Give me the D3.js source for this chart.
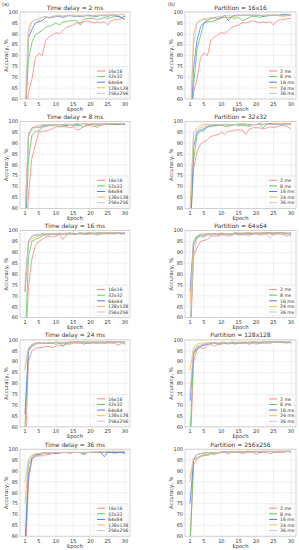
<!DOCTYPE html>
<html>
<head>
<meta charset="utf-8">
<script src="https://d3js.org/d3.v7.min.js"></script>
<style>
  body { margin: 0; background: #fff; }
  text { font-family: "DejaVu Sans", sans-serif; fill: #333; }
</style>
</head>
<body>
<svg id="chart" width="299" height="550"></svg>
<script>
  // accuracy (%) per epoch 1..30, one array per time delay x partition
  var epochs = d3.range(1, 31);
  var delays = ["2 ms", "8 ms", "16 ms", "24 ms", "36 ms"];
  var partitions = ["16x16", "32x32", "64x64", "128x128", "256x256"];
  var colors = ["#ff8080", "#55cc55", "#5577ff", "#ffb84d", "#c4c4cc"];
  var xTicks = [1, 5, 10, 15, 20, 25, 30];
  var yTicks = [60, 65, 70, 75, 80, 85, 90, 95, 100];

  var d2_p16  = [45,63,69,79,81,80,87,88.5,89.5,90.5,90,91.5,93,93.5,94,95,95,95.5,96,95.5,95,95.5,95,95.5,94,96,96.5,96.5,97,97];
  var d2_p32  = [50,78,86,89.5,90.5,91.5,93,93.5,94,95,94,95.5,95.5,96,96,96,94,96.5,97,97,97,96.5,97,97.5,97,97.5,98,98,97.5,96.5];
  var d2_p64  = [45,88,92,95,95.5,96,97.5,97.5,97.5,98,98,97.5,98,98.5,98,98,98,98,98.5,98.5,98,98,98.5,98.5,98,98.5,98.5,98,97.5,98];
  var d2_p128 = [45,90,95.5,96.5,96,97.5,98,97,98,98,98.5,98,98.5,98,98.5,98.5,98.5,98,98.5,98,98.5,98.5,98.5,98.5,99,99,99,98.5,99,98.5];
  var d2_p256 = [55,93,95.5,96.5,97,97.5,98,97.5,98,98.5,98.5,98,98.5,98.5,98.5,98,98.5,98.5,98.5,97.5,98.5,98.5,98.5,98,98.5,98.5,98.5,98.5,99,98.5];

  var d8_p16  = [40,66,83,89,95,95.5,95.5,96,96.5,97.5,97.5,97.5,97.5,97,97.5,96,96.5,97.5,98,98,97.5,98,98,98.5,98.5,98.5,98.5,98.5,99,98.5];
  var d8_p32  = [45,82,93.5,95.5,95.5,97.5,97.5,98,98,98.5,97.5,98,98,98.5,98,98,98,97.5,98.5,98.5,98.5,97,98.5,99,99,98.5,98.5,98.5,98.5,98.5];
  var d8_p64  = [50,93,97,97.5,97,98,98,98.5,98,98.5,98.5,98.5,98,98.5,98.5,98.5,98.5,99,98.5,98.5,99,98.5,99,99,98.5,99,99,98.5,99,98.5];
  var d8_p128 = [55,93,97,97.5,98,98.5,98.5,98.5,98,98.5,98.5,98.5,99,98.5,98.5,99,98.5,99,99,98.5,99,99,99,99,99,99,99,99,98.5,99];
  var d8_p256 = [55,95,96,97,97.5,97,98,98,98.5,98.5,98.5,98.5,98.5,98.5,98.5,99,98.5,99,98.5,99,99,99,99,99,98.5,99,99,99,99,99];

  var d16_p16  = [40,74,87,93,95,96,97,97.5,97,97.5,98.5,96,98,98.5,98.5,98.5,98.5,98.5,98.5,98.5,98.5,98,98.5,98.5,98.5,98.5,98.5,99,98.5,98.5];
  var d16_p32  = [45,88,95,96,96.5,97.5,98,98,98.5,98,98.5,98.5,98.5,98.5,98.5,98.5,98.5,98.5,98.5,98.5,99,98.5,98.5,99,98.5,99,98.5,99,98.5,99];
  var d16_p64  = [72,95,97.5,98,98,98.5,98.5,98.5,98.5,98.5,98.5,98.5,98.5,99,98.5,98.5,99,98.5,98.5,99,98.5,99,99,99,99,99,99,99,98.5,99];
  var d16_p128 = [72,94,96,97,97.5,98,98.5,98.5,98.5,98.5,98.5,98.5,98.5,98.5,98.5,98.5,99,98.5,99,99,98.5,99,99,99,99,99,99,99,99,99];
  var d16_p256 = [75,95,97.5,98,98,98.5,98.5,98.5,98.5,98.5,99,98.5,99,98.5,99,98.5,99,99,99,99,98.5,99,99,99,99,99,99,99,99,99];

  var d24_p16  = [45,90,95,96,96.5,96.5,97,97,96.5,97,97.5,97.5,98,98,98.5,98.5,98.5,98.5,98.5,98.5,98.5,98.5,98.5,98.5,98.5,98.5,98.5,97.5,98.5,99];
  var d24_p32  = [60,95,97,98,98.5,98.5,98.5,98.5,98.5,98,98.5,97,98.5,98.5,99,99,99,98,98.5,98.5,99,98.5,99,98.5,99,99,99,99,99,99];
  var d24_p64  = [66,95,97.5,98.5,98.5,98.5,98.5,98.5,98.5,99,98.5,98.5,98.5,99,99,99,99,99,99,99,99,99,99,99,99,99,99,99,99,98];
  var d24_p128 = [86,96.5,98,98.5,98.5,98.5,98.5,99,98.5,99,99,98.5,99,99,99,99,99,99,99,99,99,99,98.5,99,99,99,99,99,99,99];
  var d24_p256 = [87,96,97.5,98,98.5,98.5,98.5,98.5,98.5,99,98.5,99,99,99,99,99,99,99,99,99,99,99,99,99,99,99,99,99,99,99];

  var d36_p16  = [45,85,95,96.5,97,97,97.5,97.5,98,98,98,98.5,98.5,98,98.5,98.5,98.5,98.5,98.5,98.5,98.5,98.5,98.5,98.5,98.5,98.5,98,98.5,98.5,98.5];
  var d36_p32  = [55,93,96,97,97.5,98,98,98.5,98.5,98.5,98.5,98.5,98.5,98.5,98.5,98.5,98.5,98,98.5,98.5,98.5,98.5,98.5,98.5,98.5,98.5,98.5,98.5,98.5,98.5];
  var d36_p64  = [55,88,96,97.5,97.5,98,98.5,98,98.5,98,98.5,98.5,98.5,98.5,98.5,98.5,98.5,97.5,98.5,98.5,98.5,98.5,98.5,96.5,98.5,98.5,98.5,98.5,98.5,98];
  var d36_p128 = [75,95,97,97.5,98,98.5,98,98.5,98.5,98.5,98.5,98.5,98.5,98.5,98.5,98.5,98.5,98.5,98.5,98.5,98.5,98.5,99,98.5,99,99,99,99,99,99];
  var d36_p256 = [85,95.5,97.5,98,98,98,98.5,98.5,98.5,98.5,98.5,98.5,98.5,98.5,98.5,98.5,98.5,98.5,98.5,98.5,99,99,99,99,99,99,99,99,99,99];

  // rows = delays, columns = partitions
  var acc = [
    [d2_p16, d2_p32, d2_p64, d2_p128, d2_p256],
    [d8_p16, d8_p32, d8_p64, d8_p128, d8_p256],
    [d16_p16, d16_p32, d16_p64, d16_p128, d16_p256],
    [d24_p16, d24_p32, d24_p64, d24_p128, d24_p256],
    [d36_p16, d36_p32, d36_p64, d36_p128, d36_p256]
  ];

  var svg = d3.select("#chart");

  svg.append("text").attr("x", 2).attr("y", 6).style("font-size", "5px").text("(a)");
  svg.append("text").attr("x", 168).attr("y", 6).style("font-size", "5px").text("(b)");

  var cols = [{left: 20, right: 130, legW: 34}, {left: 185, right: 296, legW: 28}];
  var plotH = 87;

  function panel(col, row, title, series, labels) {
    var c = cols[col];
    var top = 12 + row * 109.3, bottom = top + plotH;
    var x = d3.scaleLinear().domain([-0.45, 31.45]).range([c.left, c.right]);
    var y = d3.scaleLinear().domain([60, 100]).range([bottom, top]);
    var id = "clip" + col + "_" + row;

    svg.append("clipPath").attr("id", id).append("rect")
      .attr("x", c.left).attr("y", top).attr("width", c.right - c.left).attr("height", plotH);

    var g = svg.append("g");

    // grid
    g.selectAll(".gx").data(xTicks).enter().append("line")
      .attr("x1", function(d) { return x(d); }).attr("x2", function(d) { return x(d); })
      .attr("y1", top).attr("y2", bottom)
      .style("stroke", "#e3e3e3").style("stroke-width", 0.5);
    g.selectAll(".gy").data(yTicks).enter().append("line")
      .attr("y1", function(d) { return y(d); }).attr("y2", function(d) { return y(d); })
      .attr("x1", c.left).attr("x2", c.right)
      .style("stroke", "#e3e3e3").style("stroke-width", 0.5);

    // lines
    var line = d3.line()
      .x(function(d, i) { return x(epochs[i]); })
      .y(function(d) { return y(d); });
    g.append("g").attr("clip-path", "url(#" + id + ")")
      .selectAll("path").data(series).enter().append("path")
      .attr("d", line)
      .style("fill", "none")
      .style("stroke", function(d, i) { return colors[i]; })
      .style("stroke-width", 0.8);

    // frame
    g.append("rect").attr("x", c.left).attr("y", top)
      .attr("width", c.right - c.left).attr("height", plotH)
      .style("fill", "none").style("stroke", "#bbb").style("stroke-width", 0.6);

    // tick labels
    g.selectAll(".tx").data(xTicks).enter().append("text")
      .attr("x", function(d) { return x(d); }).attr("y", bottom + 6.5)
      .attr("text-anchor", "middle").style("font-size", "5px")
      .text(function(d) { return d; });
    g.selectAll(".ty").data(yTicks).enter().append("text")
      .attr("x", c.left - 2).attr("y", function(d) { return y(d) + 1.8; })
      .attr("text-anchor", "end").style("font-size", "5px")
      .text(function(d) { return d; });

    g.append("text").attr("x", (c.left + c.right) / 2).attr("y", bottom + 11.5)
      .attr("text-anchor", "middle").style("font-size", "5.3px").text("Epoch");
    g.append("text")
      .attr("transform", "translate(" + (c.left - 12) + "," + ((top + bottom) / 2) + ") rotate(-90)")
      .attr("text-anchor", "middle").style("font-size", "5.3px").text("Accuracy, %");
    g.append("text").attr("x", (c.left + c.right) / 2).attr("y", top - 2.5)
      .attr("text-anchor", "middle").style("font-size", "6px").text(title);

    // legend
    var lw = c.legW, lh = 30;
    var lx = c.right - 2 - lw, ly = bottom - 2 - lh;
    g.append("rect").attr("x", lx).attr("y", ly).attr("width", lw).attr("height", lh)
      .attr("rx", 1).style("fill", "#fff").style("fill-opacity", 0.85)
      .style("stroke", "#ddd").style("stroke-width", 0.4);
    var items = g.selectAll(".leg").data(labels).enter().append("g")
      .attr("transform", function(d, i) { return "translate(" + lx + "," + (ly + 4 + i * 5.6) + ")"; });
    items.append("line").attr("x1", 3).attr("x2", 11).attr("y1", 0).attr("y2", 0)
      .style("stroke", function(d, i) { return colors[i]; }).style("stroke-width", 1);
    items.append("text").attr("x", 14).attr("y", 1.7).style("font-size", "4.6px")
      .text(function(d) { return d; });
  }

  delays.forEach(function(dl, r) {
    panel(0, r, "Time delay = " + dl, acc[r], partitions);
  });
  partitions.forEach(function(p, k) {
    panel(1, k, "Partition = " + p, acc.map(function(row) { return row[k]; }), delays);
  });
</script>
</body>
</html>
